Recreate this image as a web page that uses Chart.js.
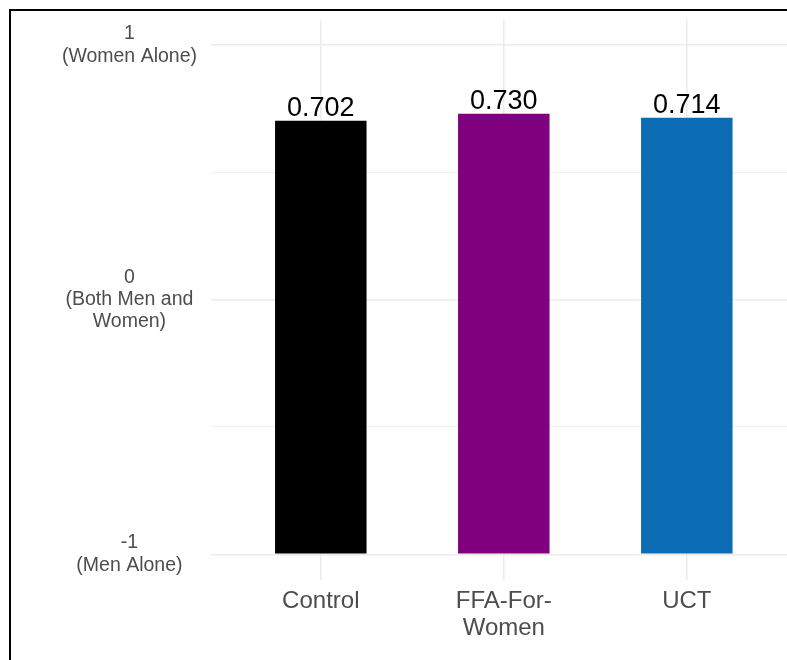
<!DOCTYPE html>
<html>
<head>
<meta charset="utf-8">
<script src="https://cdn.jsdelivr.net/npm/chart.js@4/dist/chart.umd.min.js"></script>
<style>
  html, body { margin: 0; padding: 0; background: #ffffff; overflow: hidden; }
  #wrap { position: relative; width: 787px; height: 660px; overflow: hidden; }
  #frame { position: absolute; left: 9px; top: 9px; width: 1000px; height: 1000px;
           border: 2px solid #000000; box-sizing: border-box; }
  #chart { position: absolute; left: 0; top: 0; }
</style>
</head>
<body>
<div id="wrap">
  <div id="frame"></div>
  <canvas id="chart" width="787" height="660"></canvas>
</div>
<script>
// Treatment arms and their mean decision-maker index
const categories = ['Control', 'FFA-For-Women', 'UCT'];
const categoryLabels = [['Control'], ['FFA-For-', 'Women'], ['UCT']];
const values = [0.702, 0.730, 0.714];
const barColors = ['#000000', '#800080', '#0C6DB4'];

// Index scale: -1 = men alone, 0 = both, 1 = women alone
const yTickValues = [-1, 0, 1];
const yTickLabels = [['-1', '(Men Alone)'], ['0', '(Both Men and', 'Women)'], ['1', '(Women Alone)']];
const yGridValues = [-1, -0.5, 0, 0.5, 1];

const FONT = "'Liberation Sans', Arial, sans-serif";

const valueLabels = {
  id: 'valueLabels',
  afterDatasetsDraw(chart) {
    const ctx = chart.ctx;
    const meta = chart.getDatasetMeta(0);
    ctx.save();
    ctx.font = '27px ' + FONT;
    ctx.fillStyle = '#000000';
    ctx.textAlign = 'center';
    ctx.textBaseline = 'alphabetic';
    meta.data.forEach((bar, i) => {
      ctx.fillText(values[i].toFixed(3), bar.x, bar.y - 4.5);
    });
    ctx.restore();
  }
};

new Chart(document.getElementById('chart'), {
  type: 'bar',
  data: {
    datasets: [{
      data: values.map((v, i) => ({ x: i, y: v })),
      base: -1,
      backgroundColor: barColors,
      borderWidth: 0,
      barPercentage: 0.5,
      categoryPercentage: 1
    }]
  },
  options: {
    responsive: false,
    animation: false,
    devicePixelRatio: 1,
    layout: { padding: { left: 0, right: 0, top: 19.5, bottom: 0 } },
    plugins: { legend: { display: false }, tooltip: { enabled: false } },
    scales: {
      x: {
        type: 'linear',
        offset: false,
        min: -0.6,
        max: 2.5475,
        afterBuildTicks(scale) {
          scale.ticks = categories.map((c, i) => ({ value: i }));
        },
        afterFit(scale) {
          scale.height = 80.2;
          scale.paddingLeft = 0;
          scale.paddingRight = 0;
        },
        grid: { color: '#ebebeb', lineWidth: 1.5, drawTicks: false, offset: false },
        border: { display: false },
        ticks: {
          padding: 7.5,
          autoSkip: false,
          maxRotation: 0,
          color: '#4d4d4d',
          font: { family: FONT, size: 24, lineHeight: 1.15 },
          callback: (v) => categoryLabels[Math.round(v)] || ''
        }
      },
      y: {
        min: -1.1,
        max: 1.1,
        afterBuildTicks(scale) {
          scale.ticks = yGridValues.map(v => ({ value: v }));
        },
        afterFit(scale) {
          scale.width = 211;
          scale.paddingTop = 0;
          scale.paddingBottom = 0;
        },
        grid: {
          color: '#ebebeb',
          drawTicks: false,
          lineWidth: (c) => (yTickValues.includes(c.tick && c.tick.value) ? 1.5 : 0.8)
        },
        border: { display: false },
        ticks: {
          padding: 14,
          crossAlign: 'center',
          color: '#4d4d4d',
          font: { family: FONT, size: 19.5, lineHeight: 1.15 },
          callback: (v) => {
            const k = yTickValues.indexOf(v);
            return k >= 0 ? yTickLabels[k] : '';
          }
        }
      }
    }
  },
  plugins: [valueLabels]
});
</script>
</body>
</html>
